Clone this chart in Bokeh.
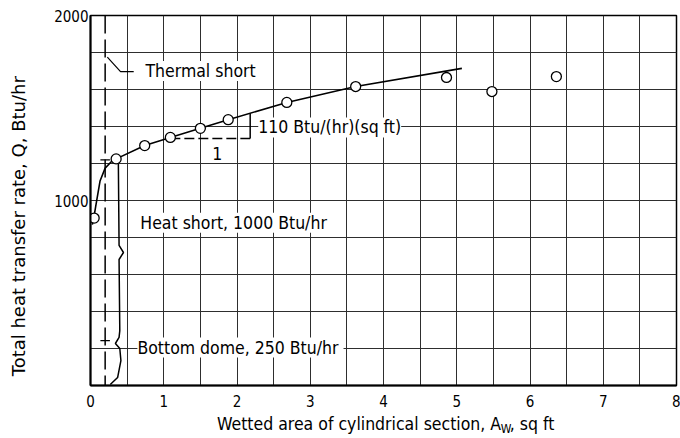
from math import pi
from bokeh.plotting import figure
from bokeh.layouts import row, column
from bokeh.models import Label, Range1d, FixedTicker, SingleIntervalTicker, Span
from bokeh.embed import file_html
from bokeh.resources import INLINE
from bokeh.core.properties import value

# ---- data ----
area = [0.05, 0.35, 0.74, 1.09, 1.50, 1.88, 2.68, 3.62, 4.86, 5.48, 6.36]
heat = [905, 1225, 1297, 1341, 1390, 1437, 1530, 1616, 1665, 1589, 1670]

curve_area = [0.025, 0.045, 0.07, 0.13, 0.20, 0.29, 0.35, 0.74, 1.09, 1.50, 1.88, 2.68, 3.62, 5.07]
curve_heat = [870, 906, 965, 1105, 1175, 1212, 1225, 1297, 1341, 1390, 1437, 1530, 1616, 1714]

x_ticks = [0, 1, 2, 3, 4, 5, 6, 7, 8]
y_ticks = [1000, 2000]

thermal_short_area = 0.2
thermal_marks_q = [1220, 243]

# curly brace (heat short + bottom dome)
brace_area = [0.31, 0.34, 0.38, 0.39, 0.45, 0.39, 0.40, 0.39, 0.34, 0.40, 0.415, 0.37, 0.27]
brace_heat = [1205, 1232, 1216, 757, 719, 681, 297, 260, 227, 200, 135, 43, 5]

# thermal short leader
leader_area = [0.23, 0.41, 0.59]
leader_heat = [1775, 1697, 1697]

# slope triangle
slope_run_area = [1.09, 2.18]
slope_run_heat = [1335, 1335]
slope_rise_area = [2.18, 2.18]
slope_rise_heat = [1335, 1472]

x_title_parts = ["Wetted area of cylindrical section,  A", "W", ",  sq ft"]
y_title = "Total heat transfer rate,  Q,  Btu/hr"

FONT = "DejaVu Sans Condensed"
GRID = "#2e2e2e"

# ---- main plot ----
p = figure(width=650, height=414, output_backend="svg", toolbar_location=None, title=None,
           x_range=Range1d(0, 8), y_range=Range1d(0, 2000),
           min_border_left=60, min_border_right=4, min_border_top=15, min_border_bottom=29)
p.background_fill_color = "white"
p.border_fill_color = "white"
p.outline_line_color = "black"
p.outline_line_width = 1.5

p.xgrid.ticker = SingleIntervalTicker(interval=0.5)
p.ygrid.ticker = SingleIntervalTicker(interval=200)
for g in (p.xgrid, p.ygrid):
    g.grid_line_color = GRID
    g.grid_line_width = 1

p.xaxis.ticker = FixedTicker(ticks=x_ticks)
p.yaxis.ticker = FixedTicker(ticks=y_ticks)
for ax in (p.xaxis, p.yaxis):
    ax.major_tick_in = 0
    ax.major_tick_out = 0
    ax.minor_tick_in = 0
    ax.minor_tick_out = 0
    ax.axis_line_color = "black"
    ax.axis_line_width = 2
    ax.major_label_text_font = FONT
    ax.major_label_text_font_size = "15px"
    ax.major_label_text_color = "black"
p.xaxis.major_label_standoff = 9
p.yaxis.major_label_standoff = 2

# thermal short dashed line
p.add_layout(Span(location=thermal_short_area, dimension="height",
                  line_color="black", line_width=1.5, line_dash="18 6"))
p.segment(x0=[thermal_short_area - 0.065] * len(thermal_marks_q), y0=thermal_marks_q,
          x1=[thermal_short_area + 0.065] * len(thermal_marks_q), y1=thermal_marks_q,
          line_color="black", line_width=1.2)

# brace, leader, slope triangle
p.line(brace_area, brace_heat, line_color="black", line_width=1.5)
p.line(leader_area, leader_heat, line_color="black", line_width=1.2)
p.line(slope_run_area, slope_run_heat, line_color="black", line_width=1.5, line_dash="10 4")
p.line(slope_rise_area, slope_rise_heat, line_color="black", line_width=1.5)

# curve and data points
p.line(curve_area, curve_heat, line_color="black", line_width=1.6)
p.scatter(area, heat, marker="circle", size=10, fill_color="white",
          line_color="black", line_width=1.3)

# annotation texts
ann_kw = dict(text_font=FONT, text_font_size="17.5px", text_color="black",
              text_baseline="middle", text_align="left",
              background_fill_color="white")
p.add_layout(Label(x=0.75, y=1700, text="Thermal short", **ann_kw))
p.add_layout(Label(x=2.29, y=1395, text="110 Btu/(hr)(sq ft)", **ann_kw))
p.add_layout(Label(x=1.73, y=1254, text="1", text_font=FONT, text_font_size="17.5px",
                   text_color="black", text_baseline="middle", text_align="center"))
p.add_layout(Label(x=0.68, y=880, text="Heat short,  1000 Btu/hr", **ann_kw))
p.add_layout(Label(x=0.64, y=205, text="Bottom dome,  250 Btu/hr", **ann_kw))

# ---- y title strip (pixel coordinates) ----
ys = figure(width=30, height=438, output_backend="svg", toolbar_location=None, title=None,
            x_range=Range1d(0, 30), y_range=Range1d(0, 438),
            x_axis_type=None, y_axis_type=None, min_border=0)
ys.outline_line_color = None
ys.grid.visible = False
ys.text(x=[18], y=[218], text=[y_title], angle=pi / 2,
        text_font=value("DejaVu Sans"), text_font_size="18px", text_color="black",
        text_align="center", text_baseline="middle")

# ---- x title strip (pixel coordinates, page x) ----
xs = figure(width=650, height=24, output_backend="svg", toolbar_location=None, title=None,
            x_range=Range1d(30, 680), y_range=Range1d(0, 24),
            x_axis_type=None, y_axis_type=None, min_border=0)
xs.outline_line_color = None
xs.grid.visible = False
xs.text(x=[491], y=[15], text=[x_title_parts[0]], text_font=value(FONT),
        text_font_size="17.5px", text_color="black", text_align="right", text_baseline="middle")
xs.text(x=[485], y=[10], text=[x_title_parts[1]], text_font=value(FONT),
        text_font_size="12px", text_color="black", text_align="left", text_baseline="middle")
xs.text(x=[495], y=[15], text=[x_title_parts[2]], text_font=value(FONT),
        text_font_size="17.5px", text_color="black", text_align="left", text_baseline="middle")

layout = row(ys, column(p, xs))
open("out.html", "w").write(file_html(layout, INLINE))
